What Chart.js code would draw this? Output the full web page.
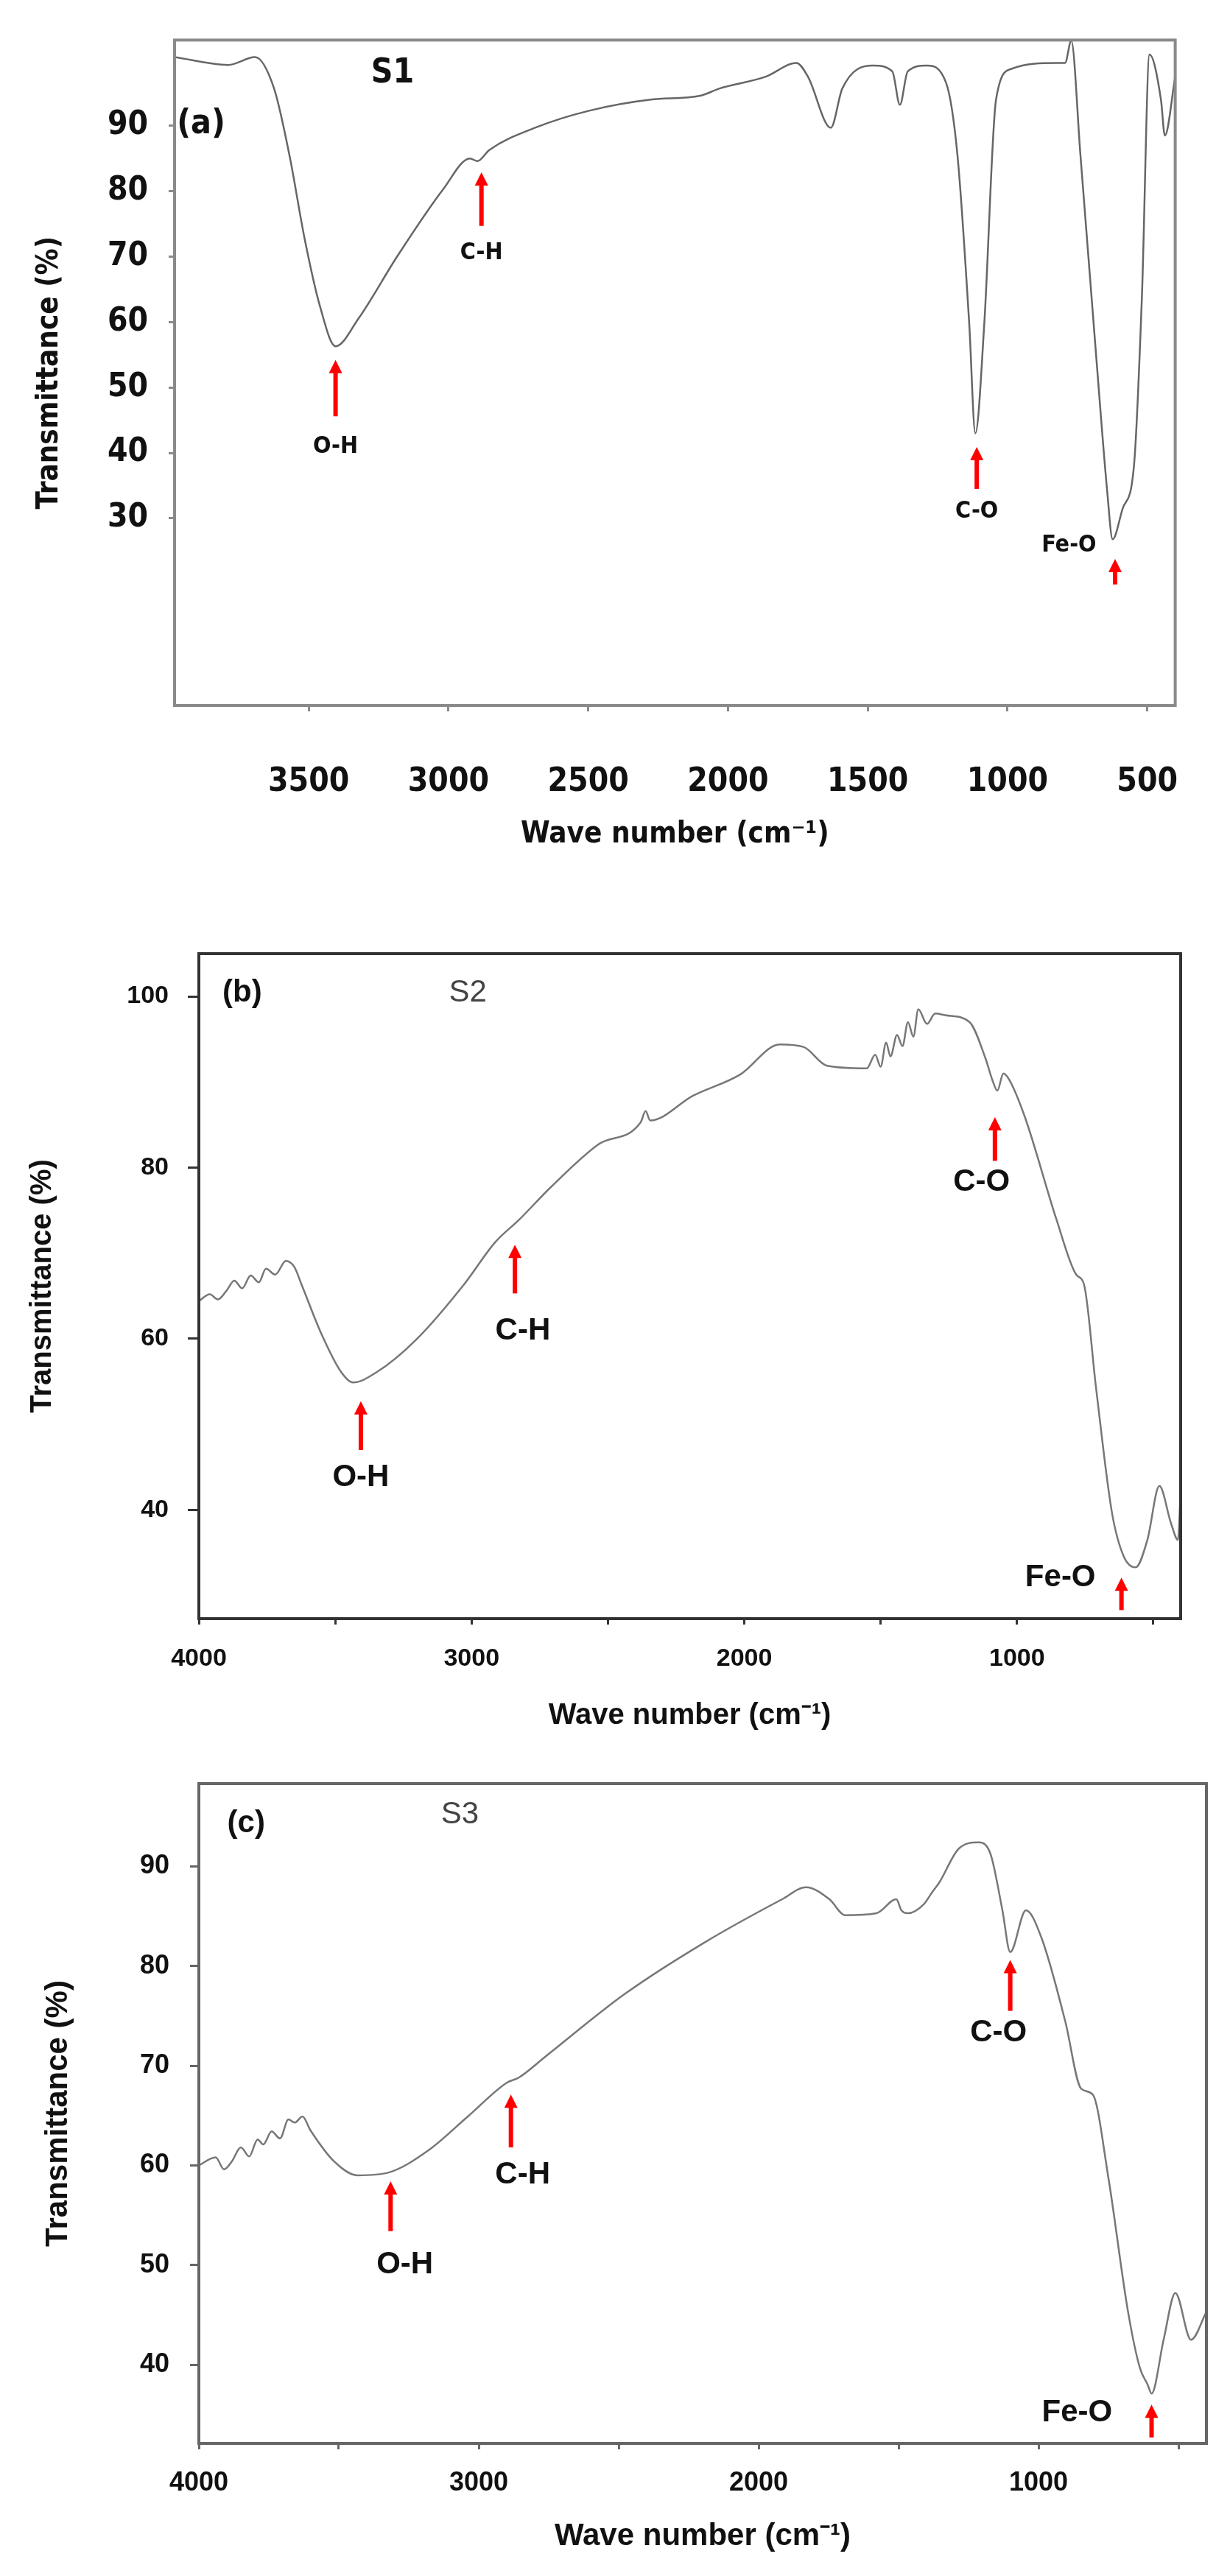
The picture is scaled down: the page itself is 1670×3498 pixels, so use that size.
<!DOCTYPE html>
<html>
<head>
<meta charset="utf-8">
<script src="https://cdn.jsdelivr.net/npm/chart.js@4/dist/chart.umd.min.js"></script>
<style>
  body { margin: 0; background: #fff; }
  .panel { position: absolute; left: 0; width: 1670px; }
</style>
</head>
<body>
<div class="panel" style="top:0;height:1160px"><canvas id="ca"></canvas></div>
<div class="panel" style="top:1160px;height:1200px"><canvas id="cb"></canvas></div>
<div class="panel" style="top:2360px;height:1138px"><canvas id="cc"></canvas></div>
<script>
// ---- S1 (a) ----
const s1Wave = [3980, 3788, 3692, 3624, 3569, 3514, 3459, 3404, 3321, 3184, 3019, 2923, 2896, 2854, 2690, 2497, 2277, 2099, 2030, 1865, 1755, 1714, 1632, 1591, 1481, 1412, 1385, 1357, 1288, 1220, 1179, 1137, 1115, 1083, 1041, 986, 821, 794, 772, 739, 684, 643, 624, 588, 547, 519, 492, 451, 437, 400];
const s1Trans = [100.5, 99.3, 100.5, 95.7, 85.5, 72.6, 62.3, 56.3, 60.6, 70, 80.3, 85, 84.6, 86.3, 89.7, 92.3, 94, 94.6, 95.7, 97.5, 99.6, 97.5, 89.7, 95.7, 99.2, 98.3, 93.2, 98.3, 99.2, 96.6, 85.5, 59.8, 43, 59.8, 94, 98.7, 99.6, 99.6, 103, 85.5, 55.5, 34, 26.8, 31.5, 38.3, 64, 100.9, 94, 88.5, 97.5];
// ---- S2 (b) ----
const s2Wave = [4000, 3960, 3930, 3899, 3870, 3841, 3810, 3780, 3754, 3720, 3681, 3650, 3623, 3551, 3478, 3435, 3348, 3203, 3029, 2913, 2826, 2710, 2536, 2380, 2362, 2345, 2188, 2014, 1870, 1783, 1696, 1551, 1520, 1500, 1480, 1464, 1440, 1420, 1400, 1380, 1362, 1330, 1300, 1261, 1174, 1116, 1090, 1072, 1050, 1029, 971, 855, 783, 754, 710, 652, 609, 565, 522, 478, 435, 410, 400];
const s2Trans = [64.4, 65.2, 64.6, 65.6, 66.8, 65.9, 67.4, 66.6, 68.2, 67.5, 69.1, 68.4, 66.3, 60.6, 56.1, 54.9, 56.1, 59.9, 66.3, 71.3, 73.9, 77.7, 82.7, 85.3, 86.6, 85.5, 88.4, 90.9, 94.4, 94.1, 91.9, 91.6, 93.2, 91.8, 94.6, 93.0, 95.5, 94.2, 97.0, 95.3, 98.5, 96.8, 98.0, 97.8, 97, 92.8, 90.2, 89, 91.0, 90.3, 85.9, 73.9, 67.5, 66.3, 54.2, 39.7, 34.6, 33.3, 36.5, 42.8, 38.4, 36.5, 42.2];
// ---- S3 (c) ----
const s3Wave = [4000, 3940, 3910, 3882, 3850, 3820, 3790, 3770, 3740, 3710, 3680, 3657, 3630, 3601, 3517, 3433, 3320, 3180, 3039, 2899, 2857, 2758, 2478, 2197, 1916, 1831, 1747, 1691, 1579, 1508, 1490, 1466, 1410, 1380, 1354, 1284, 1213, 1171, 1129, 1101, 1045, 989, 904, 848, 806, 750, 680, 638, 610, 596, 553, 511, 455, 400];
const s3Trans = [60, 60.8, 59.6, 60.4, 61.8, 60.9, 62.6, 62.1, 63.4, 62.7, 64.6, 64.3, 64.9, 63.5, 60.4, 59, 59.3, 61.5, 64.9, 68.3, 68.8, 71, 77.2, 82.3, 86.7, 87.9, 86.7, 85.1, 85.3, 86.7, 85.6, 85.3, 86.2, 87.4, 88.4, 91.8, 92.4, 91.2, 85.6, 81.4, 85.6, 82.8, 74.4, 67.7, 67.1, 58.7, 45.3, 39.7, 38, 37.1, 42.5, 47.2, 42.5, 45.3];

// tick lists
const xTicksA = [3500, 3000, 2500, 2000, 1500, 1000, 500];
const yTicksA = [30, 40, 50, 60, 70, 80, 90];
const xTicksBC = [4000, 3500, 3000, 2500, 2000, 1500, 1000, 500];
const yTicksB = [40, 60, 80, 100];
const yTicksC = [40, 50, 60, 70, 80, 90];

// band labels: [text, wave, T]; arrows: [wave, tailT, headT]
const labelsA = [['S1', 3200, 98], ['(a)', 3885, 90.2], ['O-H', 3404, 40.9], ['C-H', 2882, 70.5], ['C-O', 1110, 31], ['Fe-O', 780, 25.9]];
const arrowsA = [[3404, 45.6, 54.2], [2882, 74.7, 82.9], [1110, 34.5, 40.9], [615, 19.9, 23.8]];
const labelsB = [['(b)', 3841, 100.4], ['S2', 3014, 100.4], ['O-H', 3406, 43.8], ['C-H', 2812, 60.9], ['C-O', 1130, 78.3], ['Fe-O', 841, 32.1]];
const arrowsB = [[3406, 47, 52.7], [2841, 65.3, 71], [1081, 80.8, 85.9], [617, 28.3, 32.1]];
const labelsC = [['(c)', 3831, 94.3], ['S3', 3067, 95.2], ['O-H', 3264, 50], ['C-H', 2843, 59], ['C-O', 1143, 73.3], ['Fe-O', 862, 35.2]];
const arrowsC = [[3315, 53.4, 58.4], [2885, 61.8, 67.1], [1101, 75.5, 80.6], [596, 32.7, 36]];

const FONT_A = "'DejaVu Sans Condensed', 'Liberation Sans Narrow', sans-serif";
const FONT_BC = "'Liberation Sans', Arial, sans-serif";

// 画框 + 标注 + 箭头
const decorPlugin = {
  id: 'decor',
  afterDatasetsDraw(chart, args, o) {
    const { ctx, chartArea: a, scales: { x, y } } = chart;
    ctx.save();
    ctx.strokeStyle = o.boxColor;
    ctx.lineWidth = o.boxWidth;
    ctx.strokeRect(a.left, a.top, a.right - a.left, a.bottom - a.top);
    ctx.textAlign = 'center';
    ctx.textBaseline = 'middle';
    o.labels.forEach(([t, wx, wy]) => {
      const isS = t.startsWith('S');
      const isHead = isS || t.startsWith('(');
      const bold = !(isS && !o.boldS);
      ctx.font = (bold ? 'bold ' : '') + (isHead ? o.headSize : o.labelSize) + 'px ' + o.family;
      ctx.fillStyle = bold ? '#111' : '#444';
      ctx.fillText(t, x.getPixelForValue(wx), y.getPixelForValue(wy));
    });
    ctx.strokeStyle = '#ff0000';
    ctx.fillStyle = '#ff0000';
    ctx.lineWidth = 6;
    o.arrows.forEach(([wx, t0, t1]) => {
      const px = x.getPixelForValue(wx), p0 = y.getPixelForValue(t0), p1 = y.getPixelForValue(t1);
      ctx.beginPath();
      ctx.moveTo(px, p0);
      ctx.lineTo(px, p1 + 14);
      ctx.stroke();
      ctx.beginPath();
      ctx.moveTo(px, p1);
      ctx.lineTo(px - 9, p1 + 18);
      ctx.lineTo(px + 9, p1 + 18);
      ctx.closePath();
      ctx.fill();
    });
    ctx.restore();
  }
};

function makePanel(id, cfg) {
  const pts = cfg.wave.map((w, i) => ({ x: w, y: cfg.trans[i] }));
  return new Chart(document.getElementById(id), {
    type: 'line',
    data: { datasets: [{ data: pts, borderColor: cfg.lineColor, borderWidth: 2.5, pointRadius: 0, cubicInterpolationMode: 'monotone', fill: false }] },
    options: {
      animation: false,
      responsive: true,
      maintainAspectRatio: false,
      layout: { padding: { top: cfg.padTop, right: cfg.padRight, left: 0, bottom: 0 } },
      plugins: {
        legend: { display: false },
        tooltip: { enabled: false },
        decor: { labels: cfg.labels, arrows: cfg.arrows, family: cfg.family, labelSize: cfg.labelSize, headSize: cfg.headSize, boxColor: cfg.boxColor, boxWidth: cfg.boxWidth, boldS: cfg.boldS }
      },
      scales: {
        x: {
          type: 'linear', reverse: true, min: cfg.xMin, max: cfg.xMax,
          afterBuildTicks: s => { s.ticks = cfg.xTicks.map(v => ({ value: v })); },
          afterFit: s => { s.height = cfg.xAxisH; },
          border: { display: false },
          grid: { drawOnChartArea: false, drawTicks: true, tickLength: 8, color: cfg.boxColor, lineWidth: 3 },
          ticks: {
            padding: cfg.xTickPad, color: '#111', maxRotation: 0,
            font: { family: cfg.family, size: cfg.tickSize, weight: 'bold' },
            callback: v => cfg.xShow(v) ? String(v) : ''
          },
          title: {
            display: true, text: 'Wave number (cm⁻¹)', color: '#111',
            font: { family: cfg.family, size: cfg.titleSize, weight: cfg.titleWeight },
            padding: { top: 0, bottom: cfg.xTitleBottom }
          }
        },
        y: {
          min: cfg.yMin, max: cfg.yMax,
          afterBuildTicks: s => { s.ticks = cfg.yTicks.map(v => ({ value: v })); },
          afterFit: s => { s.width = cfg.left; },
          border: { display: false },
          grid: { drawOnChartArea: false, drawTicks: true, tickLength: cfg.yTickLen, color: cfg.boxColor, lineWidth: 3 },
          ticks: {
            padding: cfg.yTickPad, color: '#111',
            font: { family: cfg.family, size: cfg.tickSize, weight: 'bold' }
          },
          title: {
            display: true, text: 'Transmittance (%)', color: '#111',
            font: { family: cfg.family, size: cfg.titleSize, weight: 'bold' },
            padding: { top: cfg.yTitleTop, bottom: 0 }
          }
        }
      }
    },
    plugins: [decorPlugin]
  });
}

makePanel('ca', {
  wave: s1Wave, trans: s1Trans, labels: labelsA, arrows: arrowsA,
  xMin: 400, xMax: 3980, yMin: 1.4, yMax: 103.1,
  xTicks: xTicksA, yTicks: yTicksA, xShow: () => true,
  left: 237, padTop: 33, padRight: 37, xAxisH: 202,
  xTickPad: 70, xTitleBottom: 2, yTickLen: 8, yTickPad: 28, yTitleTop: 44,
  family: FONT_A, tickSize: 44, titleSize: 40, titleWeight: 'bold', labelSize: 32, headSize: 46,
  boxColor: '#8a8a8a', boxWidth: 4, lineColor: '#666', boldS: true
});

makePanel('cb', {
  wave: s2Wave, trans: s2Trans, labels: labelsB, arrows: arrowsB,
  xMin: 400, xMax: 4000, yMin: 27.3, yMax: 105,
  xTicks: xTicksBC, yTicks: yTicksB, xShow: v => v % 1000 === 0,
  left: 270, padTop: 135, padRight: 67, xAxisH: 162,
  xTickPad: 26, xTitleBottom: 6, yTickLen: 15, yTickPad: 26, yTitleTop: 34,
  family: FONT_BC, tickSize: 34, titleSize: 40, titleWeight: 'bold', labelSize: 42, headSize: 42,
  boxColor: '#333', boxWidth: 4, lineColor: '#777', boldS: false
});

makePanel('cc', {
  wave: s3Wave, trans: s3Trans, labels: labelsC, arrows: arrowsC,
  xMin: 400, xMax: 4000, yMin: 32.1, yMax: 98.3,
  xTicks: xTicksBC, yTicks: yTicksC, xShow: v => v % 1000 === 0,
  left: 270, padTop: 62, padRight: 32, xAxisH: 180,
  xTickPad: 24, xTitleBottom: 28, yTickLen: 12, yTickPad: 28, yTitleTop: 54,
  family: FONT_BC, tickSize: 36, titleSize: 42, titleWeight: 'bold', labelSize: 42, headSize: 42,
  boxColor: '#666', boxWidth: 4, lineColor: '#777', boldS: false
});
</script>
</body>
</html>
